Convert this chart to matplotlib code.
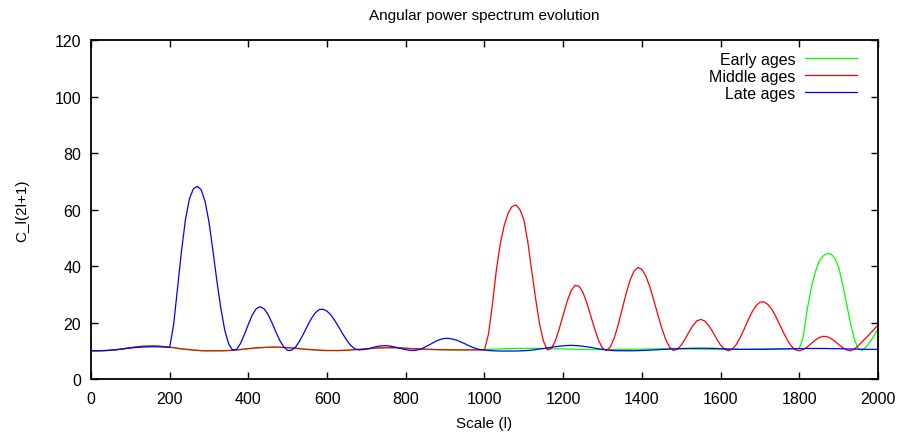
import numpy as np
import matplotlib
matplotlib.use('Agg')
import matplotlib.pyplot as plt

plt.rcParams['font.family'] = ['Liberation Sans', 'DejaVu Sans']

# multipole scale l, sampled every 10
scale = np.arange(0, 2001, 10)

# C_l(2l+1), one row per 100 in l
early = [
    9.95, 9.95, 9.95, 10.0, 10.05, 10.15, 10.3, 10.45, 10.65, 10.85,
    11.05, 11.25, 11.4, 11.55, 11.6, 11.65, 11.65, 11.6, 11.5, 11.35,
    11.2, 11.05, 10.85, 10.65, 10.5, 10.35, 10.2, 10.1, 10.0, 9.95,
    9.95, 9.95, 9.95, 9.95, 10.0, 10.05, 10.15, 10.25, 10.4, 10.55,
    10.7, 10.85, 10.95, 11.05, 11.15, 11.2, 11.25, 11.25, 11.2, 11.15,
    11.05, 10.95, 10.85, 10.7, 10.55, 10.45, 10.35, 10.25, 10.15, 10.1,
    10.05, 10.05, 10.05, 10.05, 10.1, 10.15, 10.25, 10.35, 10.45, 10.55,
    10.65, 10.75, 10.85, 10.95, 11.0, 11.05, 11.05, 11.05, 11.0, 10.95,
    10.85, 10.75, 10.7, 10.65, 10.55, 10.5, 10.45, 10.4, 10.35, 10.35,
    10.3, 10.3, 10.3, 10.3, 10.3, 10.3, 10.35, 10.35, 10.4, 10.4,
    10.45, 10.5, 10.55, 10.6, 10.65, 10.7, 10.75, 10.8, 10.8, 10.85,
    10.85, 10.85, 10.85, 10.85, 10.85, 10.8, 10.8, 10.75, 10.7, 10.7,
    10.65, 10.6, 10.6, 10.55, 10.5, 10.5, 10.45, 10.45, 10.4, 10.4,
    10.4, 10.4, 10.4, 10.4, 10.45, 10.45, 10.5, 10.5, 10.55, 10.55,
    10.6, 10.6, 10.65, 10.65, 10.7, 10.7, 10.7, 10.7, 10.7, 10.7,
    10.7, 10.65, 10.65, 10.6, 10.6, 10.55, 10.55, 10.5, 10.5, 10.5,
    10.45, 10.45, 10.45, 10.45, 10.5, 10.5, 10.5, 10.55, 10.55, 10.6,
    10.6, 10.6, 10.65, 10.65, 10.7, 10.7, 10.7, 10.7, 10.75, 10.75,
    10.75, 15.0, 24.5, 32.0, 37.6, 41.5, 43.5, 44.4, 44.3, 42.9,
    39.6, 33.6, 26.6, 19.8, 14.0, 10.7, 10.1, 11.4, 13.2, 15.3,
    17.6,
]

middle = [
    10.0, 10.0, 10.0, 10.05, 10.1, 10.2, 10.35, 10.5, 10.7, 10.9,
    11.1, 11.3, 11.45, 11.6, 11.65, 11.7, 11.7, 11.65, 11.55, 11.4,
    11.25, 11.1, 10.9, 10.7, 10.55, 10.4, 10.25, 10.15, 10.05, 10.0,
    10.0, 10.0, 10.0, 10.0, 10.05, 10.1, 10.2, 10.3, 10.45, 10.6,
    10.75, 10.9, 11.0, 11.1, 11.2, 11.25, 11.3, 11.3, 11.25, 11.2,
    11.1, 11.0, 10.9, 10.75, 10.6, 10.5, 10.4, 10.3, 10.2, 10.15,
    10.1, 10.1, 10.1, 10.1, 10.15, 10.2, 10.3, 10.4, 10.5, 10.6,
    10.7, 10.8, 10.9, 11.0, 11.05, 11.1, 11.1, 11.1, 11.05, 11.0,
    10.9, 10.8, 10.75, 10.7, 10.6, 10.55, 10.5, 10.45, 10.4, 10.4,
    10.35, 10.35, 10.3, 10.3, 10.3, 10.3, 10.3, 10.3, 10.3, 10.3,
    10.3, 15.8, 26.3, 38.4, 47.8, 54.3, 58.7, 61.1, 61.6, 60.0,
    56.4, 48.6, 38.3, 28.4, 19.4, 13.3, 10.3, 10.8, 13.5, 17.8,
    22.7, 27.5, 31.2, 33.1, 32.9, 30.7, 27.0, 22.4, 17.7, 13.6,
    10.9, 10.1, 11.4, 14.6, 19.3, 24.8, 30.3, 35.0, 38.2, 39.5,
    38.8, 36.4, 32.7, 28.0, 23.0, 18.2, 14.2, 11.3, 10.1, 10.5,
    12.0, 14.2, 16.7, 19.0, 20.6, 21.1, 20.5, 18.9, 16.7, 14.2,
    12.0, 10.5, 10.0, 10.6, 12.2, 14.7, 17.7, 20.9, 23.7, 25.9,
    27.2, 27.3, 26.4, 24.7, 22.2, 19.3, 16.4, 13.7, 11.6, 10.3,
    10.0, 10.4, 11.3, 12.5, 13.7, 14.6, 15.1, 15.0, 14.4, 13.4,
    12.2, 11.1, 10.3, 10.0, 10.6, 11.8, 13.2, 14.6, 16.1, 17.6,
    19.1,
]

late = [
    10.0, 10.0, 10.0, 10.05, 10.1, 10.2, 10.3, 10.45, 10.6, 10.8,
    10.95, 11.1, 11.2, 11.3, 11.35, 11.4, 11.4, 11.4, 11.35, 11.3,
    11.2, 19.3, 32.4, 45.3, 56.4, 63.7, 67.3, 68.2, 67.0, 62.8,
    55.4, 45.3, 34.6, 25.0, 17.2, 12.4, 10.2, 10.5, 12.6, 15.8,
    19.4, 22.7, 24.9, 25.6, 24.8, 22.8, 19.9, 16.6, 13.6, 11.3,
    10.1, 10.2, 11.3, 13.4, 16.0, 18.8, 21.4, 23.4, 24.6, 24.7,
    24.0, 22.6, 20.6, 18.3, 15.9, 13.7, 11.9, 10.7, 10.3, 10.4,
    10.6, 10.9, 11.3, 11.6, 11.75, 11.8, 11.65, 11.4, 11.05, 10.7,
    10.4, 10.15, 10.1, 10.3, 10.7, 11.4, 12.1, 12.9, 13.6, 14.1,
    14.4, 14.35, 14.1, 13.7, 13.1, 12.5, 11.8, 11.2, 10.7, 10.4,
    10.3, 10.1, 10.0, 9.95, 9.9, 9.9, 9.9, 9.9, 9.9, 9.95,
    10.0, 10.1, 10.2, 10.4, 10.6, 10.8, 11.0, 11.25, 11.45, 11.6,
    11.75, 11.85, 11.9, 11.85, 11.75, 11.6, 11.4, 11.2, 10.95, 10.7,
    10.5, 10.3, 10.15, 10.05, 10.0, 10.0, 10.0, 10.0, 10.0, 10.05,
    10.1, 10.15, 10.2, 10.3, 10.35, 10.45, 10.5, 10.6, 10.65, 10.7,
    10.75, 10.8, 10.85, 10.85, 10.9, 10.9, 10.9, 10.85, 10.85, 10.8,
    10.75, 10.7, 10.65, 10.6, 10.55, 10.5, 10.5, 10.5, 10.5, 10.5,
    10.5, 10.5, 10.55, 10.55, 10.6, 10.6, 10.65, 10.65, 10.7, 10.7,
    10.75, 10.75, 10.8, 10.8, 10.8, 10.8, 10.8, 10.8, 10.75, 10.75,
    10.7, 10.7, 10.65, 10.6, 10.6, 10.55, 10.55, 10.5, 10.5, 10.5,
    10.5,
]

fig = plt.figure(figsize=(9.01, 4.39), dpi=100)
ax = fig.add_axes([91/901, 1 - 380/439, 787/901, 339/439])

# gnuplot order: early first, late on top
ax.plot(scale, early, color='#00ff00', lw=0.9, label='Early ages')
ax.plot(scale, middle, color='#ff0000', lw=0.9, label='Middle ages')
ax.plot(scale, late, color='#0000ff', lw=0.9, label='Late ages')

ax.set_xlim(0, 2000)
ax.set_ylim(0, 120)
ax.set_xticks(np.arange(0, 2001, 200))
ax.set_yticks(np.arange(0, 121, 20))
ax.tick_params(direction='in', length=5, width=1, top=True, right=True,
               labelsize=11.5, colors='black')
ax.tick_params(axis='x', pad=9)
ax.tick_params(axis='y', pad=7)
for sp in ax.spines.values():
    sp.set_linewidth(1.3)

ax.set_title('Angular power spectrum evolution', fontsize=11, pad=15)
ax.set_xlabel('Scale (l)', fontsize=11, labelpad=7)
ax.set_ylabel('C_l(2l+1)', fontsize=11, labelpad=18)

ax.legend(loc='upper right', bbox_to_anchor=(0.9733, 0.966), frameon=False,
          markerfirst=False, fontsize=11.5, handlelength=3.25,
          handletextpad=0.6, labelspacing=0.14, borderpad=0,
          borderaxespad=0)

fig.savefig('out.png', dpi=100)
